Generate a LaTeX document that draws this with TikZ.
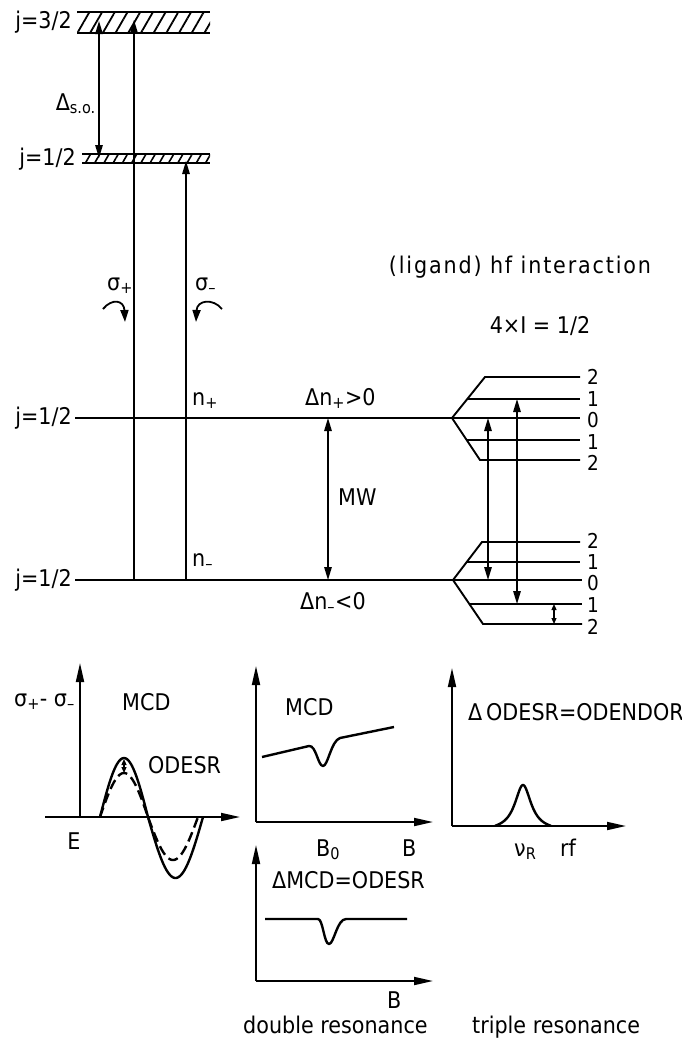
\documentclass[tikz,border=0pt]{standalone}
\usepackage{fontspec}
\setmainfont{DejaVu Sans}[FakeStretch=0.9]
\newfontfamily\widefont{DejaVu Sans}[FakeStretch=0.9,LetterSpace=8]
\usetikzlibrary{arrows.meta,patterns.meta}
\begin{document}
\begin{tikzpicture}[x=1pt,y=-1pt,
  lbl/.style={font=\fontsize{23}{25}\selectfont, inner sep=0pt},
  num/.style={font=\fontsize{20.5}{21}\selectfont, inner sep=0pt},
  lvl/.style={line width=1.9pt},
  arr/.style={-{Triangle[length=13pt,width=7.5pt]}, line width=1.4pt},
  darr/.style={{Triangle[length=13pt,width=7.5pt]}-{Triangle[length=13pt,width=7.5pt]}, line width=1.4pt},
  sdarr/.style={{Triangle[length=6pt,width=5pt]}-{Triangle[length=6pt,width=5pt]}, line width=1.2pt},
  ax/.style={-{Triangle[length=19pt,width=8pt]}, line width=1.8pt},
  crv/.style={line width=2.4pt, line join=round},
  curlarr/.style={-{Triangle[length=12pt,width=8pt]}, line width=1.8pt}]
\useasboundingbox (0,0) rectangle (682,1047);

% ---------- hatched bands ----------
\fill[pattern={Lines[angle=60,distance=11pt,line width=1.8pt]}] (77,12) rectangle (210,33);
\draw[lvl] (77,12) -- (210,12);
\draw[lvl] (77,33) -- (210,33);
\fill[pattern={Lines[angle=60,distance=8pt,line width=1.6pt]}] (82,154) rectangle (210,163);
\draw[lvl] (82,154) -- (210,154);
\draw[lvl] (82,163) -- (210,163);
\node[lbl, anchor=base east] (j32) at (72,28) {j=3/2};
\node[lbl, anchor=base east] (j12a) at (76,165) {j=1/2};
\node[lbl, anchor=base east] (dso) at (96,110) {Δ\textsubscript{s.o.}};

% ---------- ground levels ----------
\coordinate (mL) at (75,418);
\coordinate (mJ) at (452,418);
\coordinate (lL) at (75,580);
\coordinate (lJ) at (453,580);
\draw[lvl] (mL) -- (mJ);
\draw[lvl] (lL) -- (lJ);
\node[lbl, anchor=base east] (j12b) at (72,424) {j=1/2};
\node[lbl, anchor=base east] (j12c) at (72,586) {j=1/2};

% ---------- optical arrows ----------
\coordinate (so1) at (99,21);
\coordinate (so2) at (99,158);
\draw[darr] (so1) -- (so2);
\coordinate (sp0) at (134,580);
\coordinate (sp1) at (134,20);
\draw[arr] (sp0) -- (sp1);
\coordinate (sm0) at (186,580);
\coordinate (sm1) at (186,161);
\draw[arr] (sm0) -- (sm1);

\node[lbl, anchor=base west] (sigp) at (107,290) {σ\textsubscript{+}};
\node[lbl, anchor=base west] (sigm) at (195,290) {σ\textsubscript{–}};
\coordinate (cp0) at (103,309);
\coordinate (cp1) at (125,322);
\draw[curlarr] (cp0) .. controls (112,298) and (124,300) .. (cp1);
\coordinate (cm0) at (222,309);
\coordinate (cm1) at (196,322);
\draw[curlarr] (cm0) .. controls (213,298) and (197,300) .. (cm1);

\node[lbl, anchor=base west] (np) at (192,405) {n\textsubscript{+}};
\node[lbl, anchor=base west] (nm) at (192,566) {n\textsubscript{–}};
\node[lbl, anchor=base west] (dnp) at (305,405) {Δn\textsubscript{+}>0};
\node[lbl, anchor=base west] (dnm) at (300,609) {Δn\textsubscript{–}<0};
\coordinate (mw0) at (328,418);
\coordinate (mw1) at (328,580);
\draw[darr] (mw0) -- (mw1);
\node[lbl, anchor=base west] (mw) at (338,505) {MW};

\node[lbl, anchor=base] (lig) at (520,273) {\widefont (ligand) hf interaction};
\node[lbl, anchor=base] (spin) at (540,333) {4×I = 1/2};

% ---------- upper hf fan ----------
\coordinate (u2s) at (485,377);
\coordinate (u1s) at (467,399);
\coordinate (u1b) at (466,440);
\coordinate (u2b) at (480,460);
\coordinate (u2e) at (580,377);
\coordinate (u1e) at (580,399);
\coordinate (u0e) at (580,418);
\coordinate (u1be) at (580,440);
\coordinate (u2be) at (580,460);
\draw[lvl] (mJ) -- (u2s) -- (u2e);
\draw[lvl] (u1s) -- (u1e);
\draw[lvl] (mJ) -- (u0e);
\draw[lvl] (mJ) -- (u2b) -- (u2be);
\draw[lvl] (u1b) -- (u1be);
\node[num, anchor=west] (ua) at (587,377) {2};
\node[num, anchor=west] (ub) at (587,399) {1};
\node[num, anchor=west] (uc) at (587,420) {0};
\node[num, anchor=west] (ud) at (587,442) {1};
\node[num, anchor=west] (ue) at (587,463) {2};

% ---------- lower hf fan ----------
\coordinate (l2s) at (482,542);
\coordinate (l1s) at (467,562);
\coordinate (l1b) at (469,604);
\coordinate (l2b) at (483,624);
\coordinate (l2e) at (580,542);
\coordinate (l1e) at (580,562);
\coordinate (l0e) at (582,580);
\coordinate (l1be) at (582,604);
\coordinate (l2be) at (582,624);
\draw[lvl] (lJ) -- (l2s) -- (l2e);
\draw[lvl] (l1s) -- (l1e);
\draw[lvl] (lJ) -- (l0e);
\draw[lvl] (lJ) -- (l2b) -- (l2be);
\draw[lvl] (l1b) -- (l1be);
\node[num, anchor=west] (la) at (587,541) {2};
\node[num, anchor=west] (lb) at (587,562) {1};
\node[num, anchor=west] (lc) at (587,583) {0};
\node[num, anchor=west] (ld) at (587,605) {1};
\node[num, anchor=west] (le) at (587,627) {2};

% ---------- hf transitions ----------
\coordinate (t1a) at (488,418);
\coordinate (t1b) at (488,580);
\draw[darr] (t1a) -- (t1b);
\coordinate (t2a) at (517,399);
\coordinate (t2b) at (517,604);
\draw[darr] (t2a) -- (t2b);
\coordinate (t3a) at (554,604);
\coordinate (t3b) at (554,624);
\draw[sdarr] (t3a) -- (t3b);

% ---------- plot 1: MCD / ODESR vs E ----------
\coordinate (p1o) at (80,817);
\coordinate (p1y) at (80,663);
\coordinate (p1l) at (45,817);
\coordinate (p1x) at (240,817);
\draw[ax] (p1o) -- (p1y);
\draw[ax] (p1l) -- (p1x);
\draw[crv] plot[domain=100:148, samples=40] (\x,{817-59*sin(180*(\x-100)/48)})
           -- plot[domain=148:203, samples=40] (\x,{817+61*sin(180*(\x-148)/55)});
\draw[crv, dash pattern=on 10pt off 5pt] plot[domain=100:148, samples=40] (\x,{817-44*sin(180*(\x-100)/48)})
           -- plot[domain=148:198, samples=40] (\x,{817+43*sin(180*(\x-148)/50)});
\coordinate (pk1) at (124,759);
\coordinate (pk2) at (124,773);
\draw[sdarr] (pk1) -- (pk2);
\node[lbl, anchor=base west] (p1lab) at (14,706) {σ\textsubscript{+}- σ\textsubscript{–}};
\node[lbl, anchor=base west] (p1mcd) at (122,710) {MCD};
\node[lbl, anchor=base west] (p1odesr) at (148,773) {ODESR};
\node[lbl, anchor=base] (p1e) at (74,849) {E};

% ---------- plot 2: MCD vs B ----------
\coordinate (p2o) at (256,822);
\coordinate (p2y) at (256,666);
\coordinate (p2x) at (433,822);
\draw[ax] (p2o) -- (p2y);
\draw[ax] (p2o) -- (p2x);
\draw[crv] (262,757) -- (309,746) .. controls (316,745) and (318,766) .. (323,766)
           .. controls (328,766) and (331,741) .. (340,738) -- (394,727);
\node[lbl, anchor=base west] (p2mcd) at (285,715) {MCD};
\node[lbl, anchor=base west] (p2b0) at (316,856) {B\textsubscript{0}};
\node[lbl, anchor=base west] (p2b) at (402,856) {B};

% ---------- plot 3: ODENDOR vs rf ----------
\coordinate (p3o) at (452,826);
\coordinate (p3y) at (452,668);
\coordinate (p3x) at (626,826);
\draw[ax] (p3o) -- (p3y);
\draw[ax] (p3o) -- (p3x);
\draw[crv] plot[domain=495:551, samples=80] (\x,{826-46/(1+((\x-523)/10)^2)+5});
\node[lbl, anchor=base west] (p3lab) at (468,720) {Δ\,ODESR=ODENDOR};
\node[lbl, anchor=base west] (p3nu) at (514,856) {ν\textsubscript{R}};
\node[lbl, anchor=base west] (p3rf) at (560,856) {rf};

% ---------- plot 4: dMCD = ODESR vs B ----------
\coordinate (p4o) at (256,981);
\coordinate (p4y) at (256,845);
\coordinate (p4x) at (433,981);
\draw[ax] (p4o) -- (p4y);
\draw[ax] (p4o) -- (p4x);
\draw[crv] (265,919) -- (318,919) .. controls (323,919) and (324,944) .. (329,944)
           .. controls (334,944) and (337,919) .. (346,919) -- (407,919);
\node[lbl, anchor=base west] (p4lab) at (272,888) {ΔMCD=ODESR};
\node[lbl, anchor=base west] (p4b) at (387,1008) {B};

\node[lbl, anchor=base west] (dres) at (243,1033) {double resonance};
\node[lbl, anchor=base west] (tres) at (472,1033) {triple resonance};
\end{tikzpicture}
\end{document}
